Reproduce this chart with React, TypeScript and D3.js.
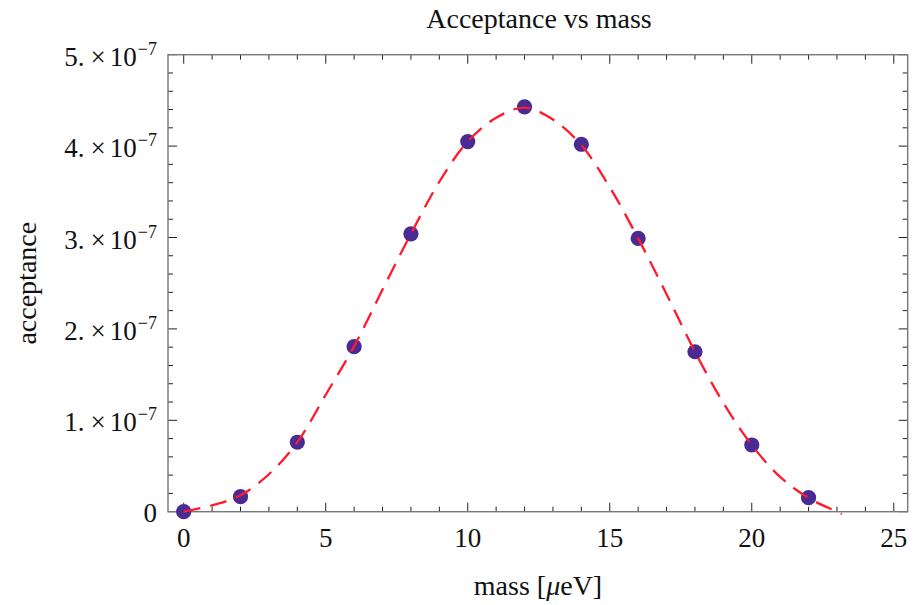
import React from "react";
import * as d3 from "d3";

const massPoints = [0, 2, 4, 6, 8, 10, 12, 14, 16, 18, 20, 22];
const acceptancePoints = [0, 0.164, 0.76, 1.805, 3.04, 4.05, 4.43, 4.02, 2.99, 1.75, 0.73, 0.153]; // ×1e-7

const fitMass = [0, 1, 2, 3, 4, 5, 6, 7, 8, 9, 10, 11, 12, 13, 14, 15, 16, 17, 18, 19, 20, 21, 22, 23, 23.17];
const fitAcceptance = [0, 0.07, 0.18, 0.41, 0.76, 1.28, 1.81, 2.43, 3.04, 3.61, 4.05, 4.31, 4.42, 4.29, 4.01, 3.55, 2.99, 2.38, 1.75, 1.19, 0.73, 0.38, 0.15, 0.0, -0.025];

const xMajorTicks = [0, 5, 10, 15, 20, 25];
const xMinorTicks = d3.range(0, 26, 1);
const yMajorTicks = [0, 1, 2, 3, 4, 5];
const yMajorLabels = ["0", "1.", "2.", "3.", "4.", "5."];
const yMinorTicks = d3.range(0, 5.01, 0.2);

const title = "Acceptance vs mass";
const yTitle = "acceptance";

const W = 918, H = 605;
const L = 168, R = 907.7, T = 54.7, B = 511.7;

export default function App() {
  const x = d3.scaleLinear().domain([-0.553, 25.49]).range([L, R]);
  const y = d3.scaleLinear().domain([0, 5]).range([B, T]);
  const line = d3
    .line<number>()
    .x((_, i) => x(fitMass[i]))
    .y((d) => y(d))
    .curve(d3.curveCatmullRom.alpha(0.5));
  const serif = "'Liberation Serif', 'DejaVu Serif', serif";
  const tickColor = "#222";
  const frameColor = "#777";

  return (
    <svg
      width={W}
      height={H}
      style={{ position: "absolute", left: 0, top: 0, background: "#fff" }}
      fontFamily={serif}
    >
      <rect x={0} y={0} width={W} height={H} fill="#fff" />
      {/* ticks */}
      {xMinorTicks.map((t) => {
        const major = xMajorTicks.includes(t);
        const len = major ? 9 : 5;
        const xx = x(t);
        return (
          <g key={"xt" + t} stroke={tickColor} strokeWidth={1}>
            <line x1={xx} x2={xx} y1={B} y2={B - len} />
            <line x1={xx} x2={xx} y1={T} y2={T + len} />
          </g>
        );
      })}
      {yMinorTicks.map((t, i) => {
        const major = i % 5 === 0;
        const len = major ? 9 : 5;
        const yy = y(t);
        return (
          <g key={"yt" + i} stroke={tickColor} strokeWidth={1}>
            <line x1={L} x2={L + len} y1={yy} y2={yy} />
            <line x1={R} x2={R - len} y1={yy} y2={yy} />
          </g>
        );
      })}
      {/* frame */}
      <rect x={L} y={T} width={R - L} height={B - T} fill="none" stroke={frameColor} strokeWidth={1.4} />
      {/* x tick labels */}
      {xMajorTicks.map((t) => (
        <text key={"xl" + t} x={x(t)} y={547} textAnchor="middle" fontSize={27} fill="#111">
          {t}
        </text>
      ))}
      {/* y tick labels */}
      {yMajorTicks.map((t, i) =>
        t === 0 ? (
          <text key={"yl" + t} x={157} y={y(t) + 10} textAnchor="end" fontSize={27} fill="#111">
            0
          </text>
        ) : (
          <text key={"yl" + t} x={157} y={y(t) + 11} textAnchor="end" fontSize={27} fill="#111">
            <tspan>{yMajorLabels[i]}</tspan>
            <tspan dx={6}>×</tspan>
            <tspan dx={4}>10</tspan>
            <tspan dx={1} dy={-11} fontSize={18}>−7</tspan>
          </text>
        )
      )}
      {/* points */}
      {massPoints.map((m, i) => (
        <circle key={"p" + i} cx={x(m)} cy={y(acceptancePoints[i])} r={7.6} fill="#4a2b93" />
      ))}
      {/* fitted curve */}
      <path
        d={line(fitAcceptance) || ""}
        fill="none"
        stroke="#ff1a2e"
        strokeWidth={2.3}
        strokeDasharray="17 10"
      />
      {/* titles */}
      <text x={539} y={28} textAnchor="middle" fontSize={28} fill="#111">
        {title}
      </text>
      <text x={538} y={595} textAnchor="middle" fontSize={28} fill="#111">
        mass [<tspan fontStyle="italic">μ</tspan>eV]
      </text>
      <text
        transform={`translate(36, ${(T + B) / 2}) rotate(-90)`}
        textAnchor="middle"
        fontSize={28}
        fill="#111"
      >
        {yTitle}
      </text>
    </svg>
  );
}
